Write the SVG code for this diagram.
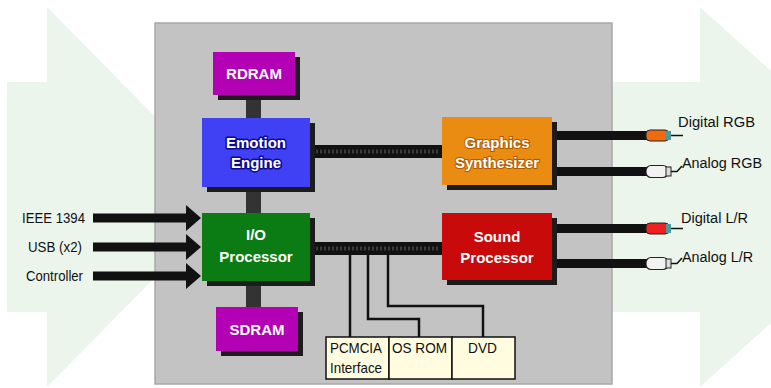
<svg xmlns="http://www.w3.org/2000/svg" width="771" height="388" viewBox="0 0 771 388">
<style>
.lbl{font-family:"Liberation Sans",Arial,sans-serif;font-size:15px;fill:#111}
.olbl{font-family:"Liberation Sans",Arial,sans-serif;font-size:15.5px;fill:#111}
.nt{font-family:"Liberation Sans",Arial,sans-serif;font-size:15px;font-weight:bold;fill:#fff;text-anchor:middle}
.bt{font-family:"Liberation Sans",Arial,sans-serif;font-size:14.5px;fill:#111}
.shadow{fill:#1c1c1c}
.bus{fill:#333}
.hbus{fill:#111}
.dots{stroke:#3c3c3c;stroke-width:4;stroke-dasharray:2 2}
.thin{fill:none;stroke:#111;stroke-width:2.5}
.bar{fill:#111}
</style>
<rect width="771" height="388" fill="#fff"/>
<g id="bg-arrows" fill="#ebf5eb">
<polygon points="7,82 47,82 47,7 234,197 47,387 47,312 7,312"/>
<polygon points="600,82 700,82 700,7 911,197 700,387 700,312 600,312"/>
</g>
<rect id="panel" x="155" y="23" width="457" height="361" fill="#c3c3c3" stroke="#a8a8a8" stroke-width="1.5"/>

<g id="connectors">
<rect class="bus" x="246" y="95" width="15" height="24"/>
<rect class="bus" x="246" y="187" width="15" height="27"/>
<rect class="bus" x="246" y="281" width="15" height="27"/>
<rect class="hbus" x="310" y="145" width="133" height="13"/>
<line class="dots" x1="312" y1="151.5" x2="440" y2="151.5"/>
<rect class="hbus" x="310" y="242" width="133" height="13"/>
<line class="dots" x1="312" y1="248.5" x2="440" y2="248.5"/>
<polyline class="thin" points="350,255 350,338"/>
<polyline class="thin" points="368,255 368,319 419,319 419,338"/>
<polyline class="thin" points="388,255 388,306 483,306 483,338"/>
<rect class="bar" x="93" y="213.5" width="95" height="9"/>
<polygon class="bar" points="186,205 201,218 186,231"/>
<rect class="bar" x="93" y="242.5" width="95" height="9"/>
<polygon class="bar" points="186,234 201,247 186,260"/>
<rect class="bar" x="93" y="271.5" width="95" height="9"/>
<polygon class="bar" points="186,263 201,276 186,289"/>
<rect class="bar" x="551" y="131" width="97" height="9"/>
<rect class="bar" x="551" y="167" width="97" height="9"/>
<rect class="bar" x="551" y="224" width="97" height="9"/>
<rect class="bar" x="551" y="259" width="97" height="9"/>
</g>

<g id="plug-digital-rgb">
<line x1="670" y1="135.5" x2="683" y2="135.5" stroke="#111" stroke-width="1.5"/>
<rect x="646" y="130" width="23" height="11" rx="4" fill="#f06a10" stroke="#222" stroke-width="1"/>
<rect x="666" y="131" width="5" height="9" fill="#4a9aa0"/>
</g>
<g id="plug-analog-rgb">
<polyline points="670,171.5 677,171.5 682,166" fill="none" stroke="#111" stroke-width="1.5"/>
<rect x="646" y="165.5" width="22" height="12" rx="5" fill="#f2f2f2" stroke="#222" stroke-width="1.2"/>
<rect x="666" y="167" width="5" height="9" fill="#ddd" stroke="#222" stroke-width="1"/>
</g>
<g id="plug-digital-lr">
<line x1="670" y1="228.5" x2="683" y2="228.5" stroke="#111" stroke-width="1.5"/>
<rect x="646" y="223" width="23" height="11" rx="4" fill="#f02020" stroke="#222" stroke-width="1"/>
<rect x="666" y="224" width="5" height="9" fill="#4a9aa0"/>
</g>
<g id="plug-analog-lr">
<polyline points="670,263.5 677,263.5 682,258" fill="none" stroke="#111" stroke-width="1.5"/>
<rect x="646" y="257.5" width="22" height="12" rx="5" fill="#f2f2f2" stroke="#222" stroke-width="1.2"/>
<rect x="666" y="259" width="5" height="9" fill="#ddd" stroke="#222" stroke-width="1"/>
</g>

<g id="labels">
<text class="lbl" x="22" y="223" textLength="63" lengthAdjust="spacingAndGlyphs">IEEE 1394</text>
<text class="lbl" x="28" y="252" textLength="54" lengthAdjust="spacingAndGlyphs">USB (x2)</text>
<text class="lbl" x="26" y="281" textLength="57" lengthAdjust="spacingAndGlyphs">Controller</text>
<text class="olbl" x="678" y="127" textLength="77" lengthAdjust="spacingAndGlyphs">Digital RGB</text>
<text class="olbl" x="682" y="168" textLength="80" lengthAdjust="spacingAndGlyphs">Analog RGB</text>
<text class="olbl" x="681" y="223" textLength="67" lengthAdjust="spacingAndGlyphs">Digital L/R</text>
<text class="olbl" x="682" y="262" textLength="71" lengthAdjust="spacingAndGlyphs">Analog L/R</text>
</g>

<g id="rdram">
<rect class="shadow" x="218" y="57" width="82" height="43"/>
<rect x="213" y="52" width="82" height="43" fill="#b400b4"/>
<text class="nt" x="254" y="79">RDRAM</text>
</g>
<g id="emotion-engine">
<rect class="shadow" x="207" y="123" width="108" height="69"/>
<rect x="202" y="118" width="108" height="69" fill="#4040f4"/>
<text class="nt" x="256" y="148" stroke="#0a0a90" stroke-width="3" paint-order="stroke" stroke-linejoin="round">Emotion</text>
<text class="nt" x="256" y="168" stroke="#0a0a90" stroke-width="3" paint-order="stroke" stroke-linejoin="round">Engine</text>
</g>
<g id="io-processor">
<rect class="shadow" x="207" y="218" width="108" height="68"/>
<rect x="202" y="213" width="108" height="68" fill="#0b7c14"/>
<text class="nt" x="256" y="240">I/O</text>
<text class="nt" x="256" y="262">Processor</text>
</g>
<g id="sdram">
<rect class="shadow" x="221" y="312" width="82" height="44"/>
<rect x="216" y="307" width="82" height="44" fill="#b400b4"/>
<text class="nt" x="257" y="335">SDRAM</text>
</g>
<g id="graphics-synthesizer">
<rect class="shadow" x="447" y="122" width="110" height="68"/>
<rect x="442" y="117" width="110" height="68" fill="#ea8c12"/>
<text class="nt" x="497" y="148" stroke="#b05a00" stroke-width="2" paint-order="stroke">Graphics</text>
<text class="nt" x="497" y="168" stroke="#b05a00" stroke-width="2" paint-order="stroke">Synthesizer</text>
</g>
<g id="sound-processor">
<rect class="shadow" x="447" y="218" width="110" height="67"/>
<rect x="442" y="213" width="110" height="67" fill="#c80a0a"/>
<text class="nt" x="497" y="242">Sound</text>
<text class="nt" x="497" y="263">Processor</text>
</g>
<g id="pcmcia">
<rect x="326" y="337" width="63" height="42" fill="#fffce0" stroke="#111" stroke-width="1.5"/>
<text class="bt" x="330" y="353" textLength="52" lengthAdjust="spacingAndGlyphs">PCMCIA</text>
<text class="bt" x="330" y="373" textLength="52" lengthAdjust="spacingAndGlyphs">Interface</text>
</g>
<g id="os-rom">
<rect x="389" y="337" width="63" height="42" fill="#fffce0" stroke="#111" stroke-width="1.5"/>
<text class="bt" x="392" y="353" textLength="55" lengthAdjust="spacingAndGlyphs">OS ROM</text>
</g>
<g id="dvd">
<rect x="452" y="337" width="63" height="42" fill="#fffce0" stroke="#111" stroke-width="1.5"/>
<text class="bt" x="468" y="353" textLength="29" lengthAdjust="spacingAndGlyphs">DVD</text>
</g>
</svg>
